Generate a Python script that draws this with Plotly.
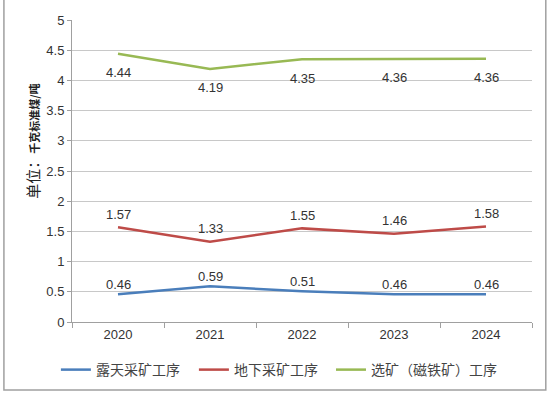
import plotly.graph_objects as go

years = ["2020", "2021", "2022", "2023", "2024"]
open_pit = [0.46, 0.59, 0.51, 0.46, 0.46]
underground = [1.57, 1.33, 1.55, 1.46, 1.58]
beneficiation = [4.44, 4.19, 4.35, 4.36, 4.36]
names = ["露天采矿工序", "地下采矿工序", "选矿（磁铁矿）工序"]
colors = ["#4a7ebb", "#be4b48", "#98b954"]

fig = go.Figure()
series = [open_pit, underground, beneficiation]
shifts = [10, 13, -19]
legend_ids = ["legend", "legend2", "legend3"]
legend_x = [-0.035, 0.265, 0.563]
for n, vals, c, sh, lid in zip(names, series, colors, shifts, legend_ids):
    fig.add_trace(go.Scatter(
        x=years, y=vals, name=n, mode="lines",
        line=dict(color=c, width=2.5), legend=lid,
    ))
    for i, v in enumerate(vals):
        fig.add_annotation(x=i, y=v, text=f"{v:.2f}", showarrow=False, yshift=sh,
                           font=dict(family="Liberation Sans, Arial", size=13, color="#333333"))

legend_common = dict(orientation="h", xref="paper", yref="paper",
                     xanchor="left", y=-0.159, yanchor="middle",
                     font=dict(family="Noto Sans CJK SC", size=14, color="#444444"),
                     itemwidth=30)

fig.update_layout(
    width=550, height=394,
    margin=dict(l=72, r=18, t=20, b=72, autoexpand=False),
    paper_bgcolor="white", plot_bgcolor="white",
    showlegend=True,
    legend=dict(x=legend_x[0], **legend_common),
    legend2=dict(x=legend_x[1], **legend_common),
    legend3=dict(x=legend_x[2], **legend_common),
    xaxis=dict(type="category", range=[-0.5, 4.5], showgrid=False, showline=True,
               linecolor="#a0a0a0", ticks="outside", tickson="boundaries", ticklen=5,
               tickcolor="#a0a0a0",
               tickfont=dict(family="Liberation Sans, Arial", size=13, color="#333333")),
    yaxis=dict(range=[0, 5], dtick=0.5, showgrid=True, gridcolor="#c8c8c8",
               showline=True, linecolor="#a0a0a0", zeroline=False,
               ticks="outside", ticklen=4, tickcolor="#a0a0a0",
               tickfont=dict(family="Liberation Sans, Arial", size=13, color="#333333")),
)

fig.add_annotation(text="<span style='font-size:15px'>单位：</span><b>千克标准煤/吨</b>",
                   xref="paper", yref="paper",
                   x=-0.085, y=0.60, xanchor="center", yanchor="middle",
                   textangle=-90, showarrow=False,
                   font=dict(family="Noto Sans CJK SC", size=11, color="#222222"))

fig.add_shape(type="rect", xref="paper", yref="paper",
              x0=-0.148, y0=-0.225, x1=1.03, y1=1.1,
              line=dict(color="#a0a0a0", width=1.5))

fig.write_html("out.html", config={"displayModeBar": False},
               post_script="document.body.style.margin='0';")
